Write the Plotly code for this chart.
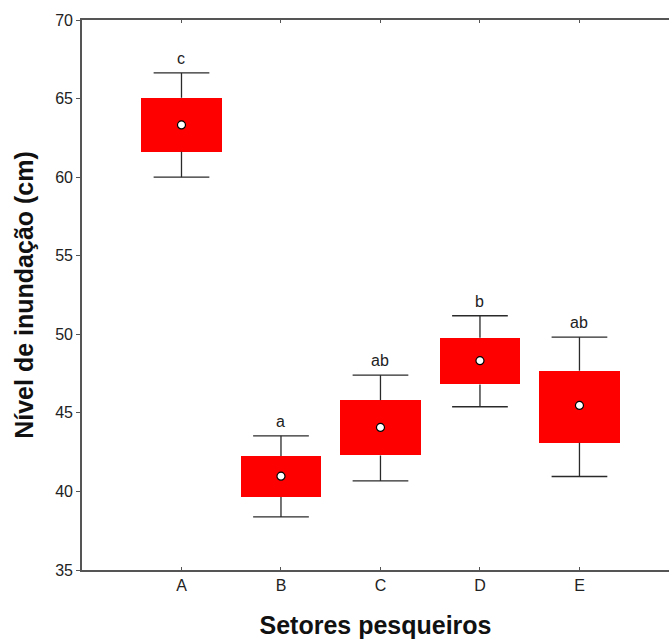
import plotly.graph_objects as go

# Fishing sectors and flood level summary statistics (cm)
setores = ["A", "B", "C", "D", "E"]
media = [63.32, 40.97, 44.07, 48.32, 45.47]
caixa_inf = [61.62, 39.64, 42.29, 46.81, 43.10]
caixa_sup = [65.05, 42.25, 45.81, 49.78, 47.68]
bigode_inf = [60.00, 38.38, 40.67, 45.39, 40.95]
bigode_sup = [66.63, 43.54, 47.40, 51.18, 49.82]
letras = ["c", "a", "ab", "b", "ab"]

pos = list(range(1, len(setores) + 1))
larg_caixa = 0.81
larg_cap = 0.56

fig = go.Figure()

# Boxes: bars from lower to upper box limit
fig.add_trace(go.Bar(
    x=pos,
    y=[s - i for s, i in zip(caixa_sup, caixa_inf)],
    base=caixa_inf,
    width=larg_caixa,
    marker=dict(color="#ff0000", line=dict(width=0)),
    hoverinfo="skip",
    showlegend=False,
))

# Whiskers and caps as line segments
wx, wy = [], []
for p, bi, bs, ci, cs in zip(pos, bigode_inf, bigode_sup, caixa_inf, caixa_sup):
    wx += [p, p, None, p - larg_cap / 2, p + larg_cap / 2, None]
    wy += [cs, bs, None, bs, bs, None]
    wx += [p, p, None, p - larg_cap / 2, p + larg_cap / 2, None]
    wy += [ci, bi, None, bi, bi, None]
fig.add_trace(go.Scatter(
    x=wx, y=wy, mode="lines",
    line=dict(color="#2a2a2a", width=1.3),
    hoverinfo="skip", showlegend=False,
))

# Means
fig.add_trace(go.Scatter(
    x=pos, y=media, mode="markers",
    marker=dict(color="white", size=8, line=dict(color="black", width=1.2)),
    showlegend=False,
))

# Significance letters above the whiskers
for p, bs, l in zip(pos, bigode_sup, letras):
    fig.add_annotation(
        x=p, y=bs, text=l, showarrow=False,
        yanchor="bottom", yshift=4,
        font=dict(family="Liberation Sans, Arial", size=16, color="#222222"),
    )

fig.update_layout(
    width=669, height=639,
    margin=dict(l=82, r=0, t=20, b=69),
    paper_bgcolor="white", plot_bgcolor="white",
    font=dict(family="Liberation Sans, Arial", color="#222222"),
    bargap=0,
)

fig.update_xaxes(
    range=[0, 5.9],
    tickmode="array", tickvals=pos, ticktext=setores,
    tickfont=dict(size=16, color="#222222"),
    showgrid=False, zeroline=False,
    showline=True, linecolor="#555555", linewidth=1.6,
    mirror="ticks",
    ticks="inside", ticklen=3, tickcolor="#555555", tickwidth=1.3,
    title=dict(text="<b>Setores pesqueiros</b>", font=dict(size=25, color="#111111"), standoff=26),
)

fig.update_yaxes(
    range=[35, 70],
    tickmode="array", tickvals=[35, 40, 45, 50, 55, 60, 65, 70],
    tickfont=dict(size=16, color="#222222"),
    showgrid=False, zeroline=False,
    showline=True, linecolor="#555555", linewidth=1.6,
    ticks="outside", ticklen=4, tickcolor="#555555", tickwidth=1.3,
    title=dict(text="<b>Nível de inundação (cm)</b>", font=dict(size=25, color="#111111"), standoff=14),
)

fig.write_html("out.html")
